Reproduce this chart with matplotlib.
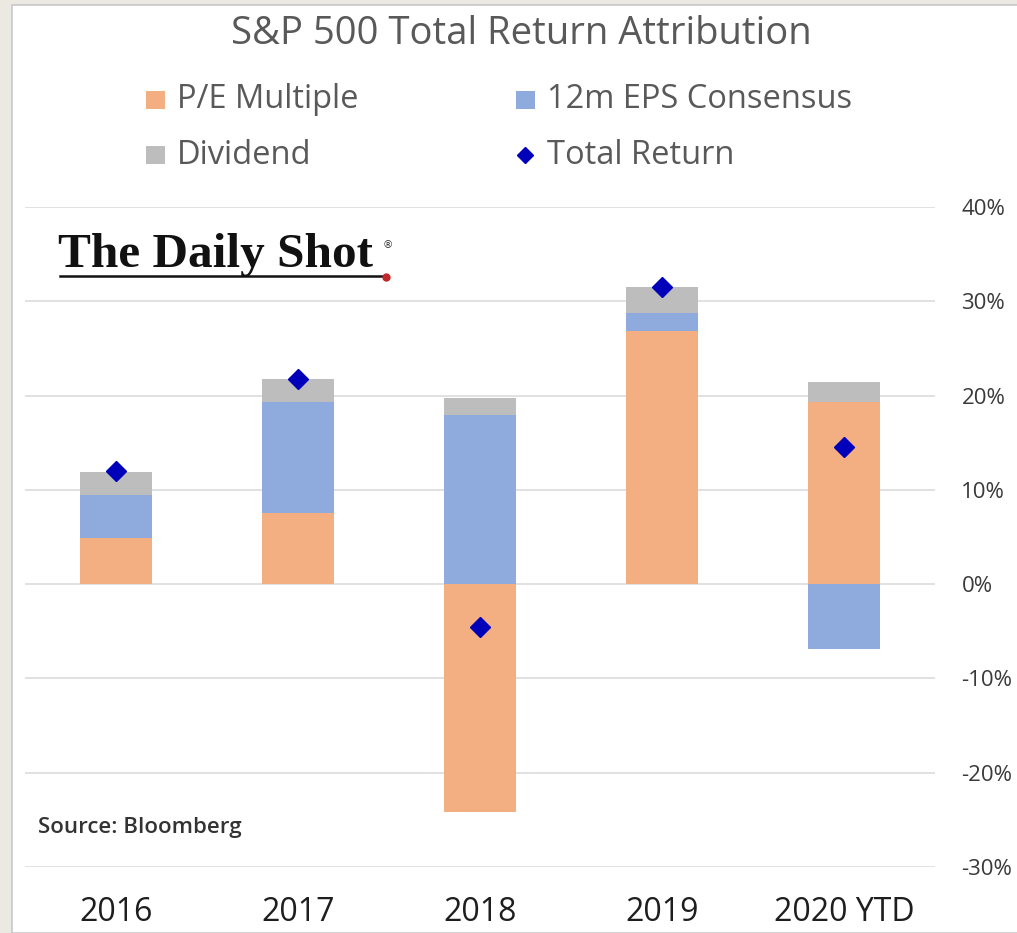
import matplotlib
matplotlib.use("Agg")
import matplotlib.pyplot as plt
import numpy as np
from matplotlib.patches import Rectangle
from matplotlib.lines import Line2D

categories = ['2016', '2017', '2018', '2019', '2020 YTD']
pe_multiple = [4.9, 7.5, -24.2, 26.9, 19.3]
eps_consensus = [4.6, 11.8, 17.9, 1.9, -6.9]
dividend = [2.4, 2.5, 1.8, 2.7, 2.1]
total_return = [12.0, 21.8, -4.5, 31.5, 14.5]
y_ticks = [-30, -20, -10, 0, 10, 20, 30, 40]

C_PE = '#F3AF81'
C_EPS = '#8FAADC'
C_DIV = '#BDBDBD'
C_TOT = '#0000BB'

plt.rcParams['font.family'] = ['Open Sans', 'DejaVu Sans']

W, H = 1017, 933
fig = plt.figure(figsize=(W / 100, H / 100), dpi=100)
fig.patch.set_facecolor('#ECE9E2')
# white panel
fig.patches.append(Rectangle((12 / W, 0), 1, 1 - 5 / H, transform=fig.transFigure,
                             facecolor='white', edgecolor='#C8C8C8', lw=1.2, zorder=-5))

ax = fig.add_axes([25 / W, 1 - 867 / H, 910 / W, (867 - 207) / H])
ax.set_facecolor('none')
x = np.arange(len(categories))
width = 0.4

pos_bottom = np.zeros(len(x))
neg_bottom = np.zeros(len(x))
for vals, col, lab in [(pe_multiple, C_PE, 'P/E Multiple'),
                       (eps_consensus, C_EPS, '12m EPS Consensus'),
                       (dividend, C_DIV, 'Dividend')]:
    v = np.array(vals, dtype=float)
    bottoms = np.where(v >= 0, pos_bottom, neg_bottom)
    ax.bar(x, v, width, bottom=bottoms, color=col, zorder=2, label=lab)
    pos_bottom = pos_bottom + np.where(v >= 0, v, 0)
    neg_bottom = neg_bottom + np.where(v < 0, v, 0)

ax.plot(x, total_return, linestyle='none', marker='D', markersize=10,
        color=C_TOT, zorder=3, label='Total Return')

ax.set_xlim(-0.5, len(x) - 0.5)
ax.set_ylim(-30, 40)
ax.set_yticks(y_ticks)
ax.set_yticklabels([f'{t}%' for t in y_ticks])
ax.yaxis.tick_right()
ax.grid(axis='y', color='#DCDCDC', lw=1.2, zorder=0)
ax.tick_params(axis='y', length=0, pad=19, labelsize=16, labelcolor='#3A3A3A')
ax.set_xticks(x)
ax.set_xticklabels(categories)
ax.tick_params(axis='x', length=0, pad=21, labelsize=23, labelcolor='#1E1E1E')
for s in ax.spines.values():
    s.set_visible(False)

fig.text(521 / W, 1 - 34 / H, 'S&P 500 Total Return Attribution', ha='center', va='center',
         fontsize=27.5, color='#595959')

# legend (manual layout)
legend_items = [('P/E Multiple', C_PE, 'sq', 146, 100),
                ('12m EPS Consensus', C_EPS, 'sq', 516, 100),
                ('Dividend', C_DIV, 'sq', 146, 155),
                ('Total Return', C_TOT, 'dia', 516, 155)]
for lab, col, kind, px, py in legend_items:
    if kind == 'sq':
        fig.patches.append(Rectangle((px / W, 1 - (py + 9) / H), 19 / W, 18 / H,
                                     transform=fig.transFigure, facecolor=col, edgecolor='none'))
    else:
        fig.add_artist(Line2D([(px + 9) / W], [1 - py / H], transform=fig.transFigure,
                              marker='D', markersize=8, color=col, linestyle='none'))
    fig.text((px + 31) / W, 1 - py / H, lab, fontsize=23.5, color='#595959',
             va='center', ha='left')

fig.text(58 / W, 1 - 255 / H, 'The Daily Shot', fontsize=35.5, family='Liberation Serif',
         weight='bold', color='#111111', va='center', ha='left')
fig.text(388 / W, 1 - 245 / H, '®', fontsize=7.5, family='DejaVu Sans', color='#333333',
         va='center', ha='center')
fig.add_artist(Line2D([60 / W, 383 / W], [1 - 276 / H, 1 - 276 / H], transform=fig.transFigure,
                      color='#111111', lw=1.8))
fig.add_artist(Line2D([386 / W], [1 - 277 / H], transform=fig.transFigure, marker='o',
                      markersize=5, color='#C0282A'))

fig.text(38 / W, 1 - 828 / H, 'Source: Bloomberg', fontsize=16, color='#333333',
         weight='semibold', va='center', ha='left')

fig.savefig('out.png', dpi=100, facecolor=fig.get_facecolor())
